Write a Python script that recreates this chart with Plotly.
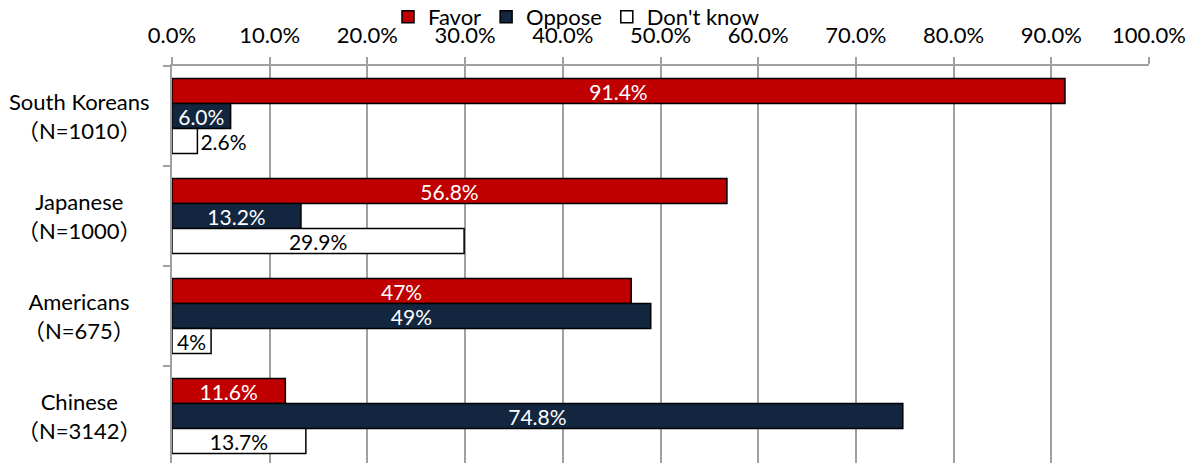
import plotly.graph_objects as go

# Survey groups (top to bottom) and sample sizes
groups = ["South Koreans", "Japanese", "Americans", "Chinese"]
sample_sizes = [1010, 1000, 675, 3142]

# Share of respondents (%) per answer
favor = [91.4, 56.8, 47, 11.6]
oppose = [6.0, 13.2, 49, 74.8]
dont_know = [2.6, 29.9, 4, 13.7]

# Decimal places used when printing each group's values
label_decimals = [1, 1, 0, 1]

x_ticks = [0, 10, 20, 30, 40, 50, 60, 70, 80, 90, 100]

FONT = "Lato, 'Noto Sans CJK JP', sans-serif"
FS = 22


def fmt(values):
    return [f"{v:.{d}f}%" for v, d in zip(values, label_decimals)]


series = [
    ("Favor", favor, "#C00000", "white"),
    ("Oppose", oppose, "#13263F", "white"),
    ("Don't know", dont_know, "#FFFFFF", "black"),
]

fig = go.Figure()
for name, vals, color, txtcolor in series:
    fig.add_trace(go.Bar(
        name=name,
        y=groups,
        x=vals,
        orientation="h",
        marker=dict(color=color, line=dict(color="black", width=1.5)),
        text=fmt(vals),
        textposition="auto",
        insidetextanchor="middle",
        constraintext="none",
        textfont=dict(family=FONT, size=FS - 1, color=txtcolor),
        outsidetextfont=dict(family=FONT, size=FS - 1, color="black"),
        cliponaxis=False,
    ))

# Two-line, centred group labels on the left
plot_left, plot_right = 172, 1149
plot_top, fig_h = 66, 463
for g, n in zip(groups, sample_sizes):
    fig.add_annotation(
        xref="paper", yref="y",
        x=(79 - plot_left) / (plot_right - plot_left), y=g,
        text=f"{g}<br>（N={n}）",
        showarrow=False, xanchor="center", yanchor="middle", align="center",
        font=dict(family=FONT, size=FS, color="black"),
    )

fig.update_layout(
    width=1193, height=fig_h,
    margin=dict(l=plot_left, r=1193 - plot_right, t=plot_top, b=0, autoexpand=False),
    paper_bgcolor="white", plot_bgcolor="white",
    barmode="group", bargap=0.25, bargroupgap=0,
    font=dict(family=FONT, size=FS, color="black"),
    showlegend=True,
    legend=dict(
        orientation="h", xref="paper", yref="paper",
        x=(388 - plot_left) / (plot_right - plot_left), xanchor="left",
        y=1 + (plot_top + 4) / (fig_h - plot_top), yanchor="top",
        font=dict(family=FONT, size=FS, color="black"),
        bgcolor="rgba(0,0,0,0)", itemwidth=30, traceorder="normal",
        borderwidth=0,
    ),
    xaxis=dict(
        side="top", range=[0, 100], tickvals=x_ticks,
        ticktext=[f"{t:.1f}%" for t in x_ticks],
        showgrid=True, gridcolor="#A0A0A0", gridwidth=1.5,
        ticks="outside", ticklen=7, tickcolor="#A0A0A0", tickwidth=1.5,
        ticklabelstandoff=5,
        showline=True, linecolor="#A0A0A0", linewidth=1.5,
        zeroline=False, fixedrange=True,
        tickfont=dict(family=FONT, size=FS, color="black"),
    ),
    yaxis=dict(
        type="category", categoryorder="array", categoryarray=groups,
        range=[3.47, -0.5],
        showticklabels=False, showgrid=False, zeroline=False,
        tickson="boundaries", ticks="outside", ticklen=7,
        tickcolor="#A0A0A0", tickwidth=1.5,
        showline=True, linecolor="#A0A0A0", linewidth=1.5,
        fixedrange=True,
    ),
)

fig.write_html("out.html")
